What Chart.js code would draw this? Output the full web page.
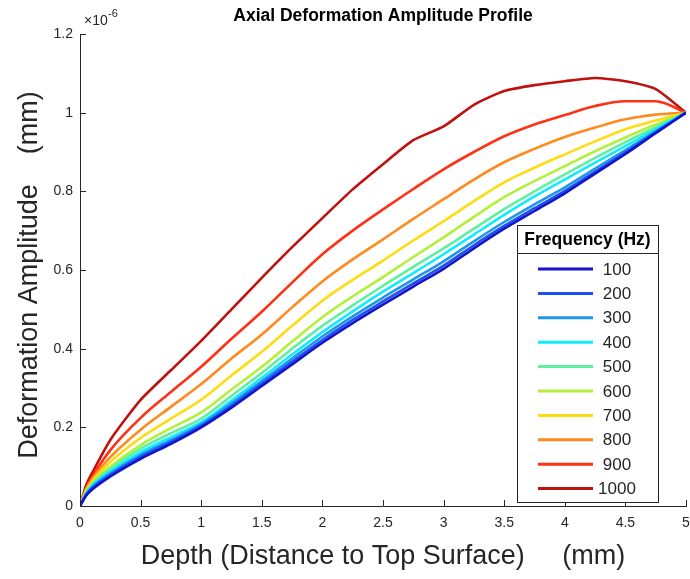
<!DOCTYPE html>
<html>
<head>
<meta charset="utf-8">
<script src="https://cdn.jsdelivr.net/npm/chart.js@4.4.1/dist/chart.umd.min.js"></script>
<style>
  body { margin: 0; background: #fff; }
  #wrap { width: 690px; height: 579px; }
</style>
</head>
<body>
<div id="wrap"><canvas id="chart" width="690" height="579"></canvas></div>
<script>
// depth along the specimen (mm) and amplitude in units of 1e-6 mm
const depth = [0, 0.05, 0.1, 0.25, 0.5, 0.75, 1, 1.25, 1.5, 1.75, 2, 2.25, 2.5, 2.75, 3, 3.25, 3.5, 3.75, 4, 4.25, 4.5, 4.75, 5];

const freqs = [100, 200, 300, 400, 500, 600, 700, 800, 900, 1000];

const amp100  = [0, 0.026, 0.042, 0.075, 0.120, 0.158, 0.200, 0.250, 0.305, 0.360, 0.415, 0.465, 0.512, 0.558, 0.603, 0.655, 0.705, 0.750, 0.795, 0.845, 0.895, 0.948, 1.0];
const amp200  = [0, 0.028, 0.045, 0.079, 0.125, 0.163, 0.204, 0.255, 0.311, 0.367, 0.422, 0.473, 0.520, 0.566, 0.611, 0.663, 0.712, 0.757, 0.801, 0.850, 0.899, 0.950, 1.0];
const amp300  = [0, 0.030, 0.048, 0.083, 0.130, 0.168, 0.208, 0.261, 0.318, 0.375, 0.431, 0.482, 0.530, 0.576, 0.622, 0.673, 0.722, 0.767, 0.810, 0.858, 0.905, 0.953, 1.0];
const amp400  = [0, 0.032, 0.051, 0.088, 0.137, 0.175, 0.213, 0.268, 0.326, 0.385, 0.442, 0.495, 0.545, 0.592, 0.640, 0.690, 0.740, 0.787, 0.830, 0.873, 0.915, 0.958, 1.0];
const amp500  = [0, 0.034, 0.055, 0.094, 0.146, 0.185, 0.222, 0.280, 0.338, 0.400, 0.458, 0.510, 0.560, 0.608, 0.655, 0.705, 0.755, 0.800, 0.843, 0.885, 0.925, 0.963, 1.0];
const amp600  = [0, 0.036, 0.058, 0.100, 0.155, 0.198, 0.238, 0.296, 0.354, 0.418, 0.480, 0.533, 0.582, 0.633, 0.683, 0.735, 0.785, 0.826, 0.864, 0.902, 0.937, 0.970, 1.0];
const amp700  = [0, 0.039, 0.063, 0.112, 0.173, 0.222, 0.270, 0.332, 0.392, 0.458, 0.522, 0.575, 0.624, 0.675, 0.724, 0.775, 0.823, 0.860, 0.894, 0.927, 0.958, 0.980, 1.0];
const amp800  = [0, 0.042, 0.068, 0.124, 0.194, 0.252, 0.310, 0.375, 0.436, 0.505, 0.571, 0.627, 0.678, 0.730, 0.780, 0.830, 0.874, 0.908, 0.938, 0.962, 0.983, 0.995, 1.0];
const amp900  = [0, 0.046, 0.074, 0.142, 0.224, 0.290, 0.354, 0.425, 0.494, 0.568, 0.640, 0.700, 0.754, 0.806, 0.856, 0.900, 0.940, 0.970, 0.994, 1.017, 1.029, 1.029, 1.0];
const amp1000 = [0, 0.052, 0.084, 0.168, 0.270, 0.345, 0.420, 0.500, 0.580, 0.658, 0.732, 0.805, 0.869, 0.930, 0.965, 1.020, 1.055, 1.070, 1.080, 1.088, 1.080, 1.060, 1.0];

const series = [amp100, amp200, amp300, amp400, amp500, amp600, amp700, amp800, amp900, amp1000];
const colors = ["#1414c8", "#1e50f0", "#1e96f0", "#10ecff", "#5ef0a0", "#b2f03c", "#ffdc10", "#ff8a1e", "#ff3014", "#c01010"];

const axisColor = "#262626";
const font = "'Liberation Sans', Arial, sans-serif";

const datasets = series.map((vals, i) => ({
  label: String(freqs[i]),
  data: vals.map((v, j) => ({ x: depth[j], y: v })),
  borderColor: colors[i],
  borderWidth: 2.6,
  pointRadius: 0,
  cubicInterpolationMode: i === 9 ? "default" : "monotone",
  tension: i === 9 ? 0.2 : 0,
  fill: false
}));

const fmt = v => String(+Number(v).toFixed(2));

// extra drawing: inward ticks, titles, exponent, legend box
const decor = {
  id: "decor",
  afterDraw(chart) {
    const c = chart.ctx;
    const xs = chart.scales.x, ys = chart.scales.y;
    const a = chart.chartArea;
    c.save();
    c.strokeStyle = axisColor;
    c.lineWidth = 1;
    xs.ticks.forEach(t => {
      const px = Math.round(xs.getPixelForValue(t.value)) + 0.5;
      c.beginPath(); c.moveTo(px, a.bottom); c.lineTo(px, a.bottom - 6); c.stroke();
    });
    ys.ticks.forEach(t => {
      const py = Math.round(ys.getPixelForValue(t.value)) + 0.5;
      c.beginPath(); c.moveTo(a.left, py); c.lineTo(a.left + 6, py); c.stroke();
    });

    // title
    c.fillStyle = "#000";
    c.font = "bold 17.5px " + font;
    c.textAlign = "center";
    c.textBaseline = "middle";
    c.fillText("Axial Deformation Amplitude Profile", (a.left + a.right) / 2, 16);

    // exponent
    c.fillStyle = axisColor;
    c.textAlign = "left";
    c.font = "14px " + font;
    c.fillText("\u00d710", 84, 21);
    c.font = "11px " + font;
    c.fillText("-6", 108, 14);

    // axis titles
    c.font = "27px " + font;
    c.textAlign = "center";
    c.fillText("Depth (Distance to Top Surface)     (mm)", (a.left + a.right) / 2, 557);
    c.save();
    c.translate(30, (a.top + a.bottom) / 2 + 5);
    c.rotate(-Math.PI / 2);
    c.fillText("Deformation Amplitude    (mm)", 0, 0);
    c.restore();

    // legend
    const lx = 517, ly = 225, lw = 141, lh = 277;
    c.fillStyle = "#fff";
    c.fillRect(lx, ly, lw, lh);
    c.strokeStyle = axisColor;
    c.strokeRect(lx + 0.5, ly + 0.5, lw, lh);
    c.beginPath(); c.moveTo(lx, ly + 28.5); c.lineTo(lx + lw, ly + 28.5); c.stroke();
    c.fillStyle = "#000";
    c.font = "bold 17.5px " + font;
    c.textAlign = "center";
    c.fillText("Frequency (Hz)", lx + lw / 2, ly + 15);
    c.font = "17px " + font;
    chart.data.datasets.forEach((ds, i) => {
      const y = 269 + i * 24.4;
      c.strokeStyle = ds.borderColor;
      c.lineWidth = 3;
      c.beginPath(); c.moveTo(538, y); c.lineTo(593, y); c.stroke();
      c.fillStyle = axisColor;
      c.fillText(ds.label, 617, y + 1);
    });
    c.restore();
  }
};

new Chart(document.getElementById("chart"), {
  type: "line",
  data: { datasets },
  plugins: [decor],
  options: {
    responsive: false,
    animation: false,
    layout: { padding: { top: 34, right: 4, left: 0, bottom: 0 } },
    plugins: { legend: { display: false }, tooltip: { enabled: false } },
    scales: {
      x: {
        type: "linear",
        min: 0, max: 5,
        grid: { display: false, drawTicks: false },
        border: { display: true, color: axisColor, width: 1 },
        ticks: { stepSize: 0.5, color: axisColor, padding: 9, maxRotation: 0, callback: fmt, font: { family: font, size: 14 } },
        afterFit(s) { s.height = 73; s.paddingLeft = 0; s.paddingRight = 0; }
      },
      y: {
        min: 0, max: 1.2,
        grid: { display: false, drawTicks: false },
        border: { display: true, color: axisColor, width: 1 },
        ticks: { stepSize: 0.2, color: axisColor, padding: 7, callback: fmt, font: { family: font, size: 14 } },
        afterFit(s) { s.width = 80; s.paddingTop = 0; s.paddingBottom = 0; }
      }
    }
  }
});
</script>
</body>
</html>
